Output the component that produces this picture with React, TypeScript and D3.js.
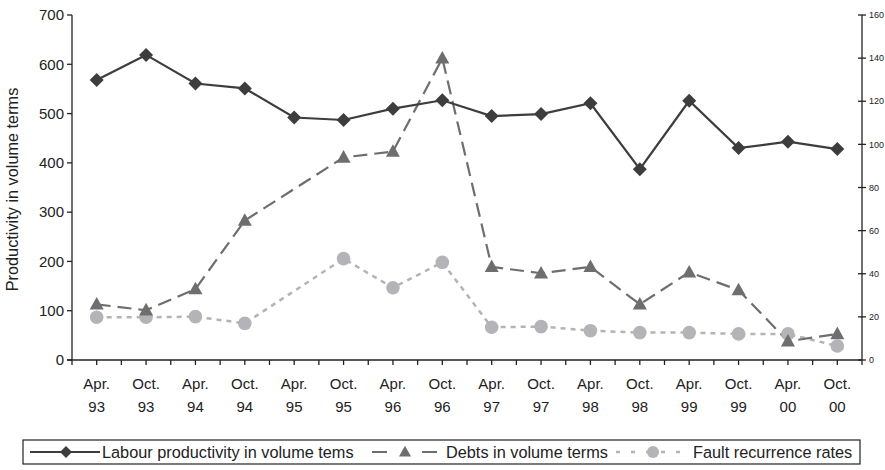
import React from "react";
import * as d3 from "d3";

const categories = ["Apr. 93","Oct. 93","Apr. 94","Oct. 94","Apr. 95","Oct. 95","Apr. 96","Oct. 96","Apr. 97","Oct. 97","Apr. 98","Oct. 98","Apr. 99","Oct. 99","Apr. 00","Oct. 00"];
const labour: (number | null)[] = [568,619,561,551,492,487,510,527,495,499,521,387,526,430,443,428];
const debts: (number | null)[] = [113,101,144,283,null,411,423,612,189,176,189,113,178,142,38,53];
const fault: (number | null)[] = [19.8,19.8,20.1,17,null,47,33.5,45.3,15.2,15.5,13.6,12.7,12.7,12.1,12.1,6.5];
const leftTicks = [0,100,200,300,400,500,600,700];
const rightTicks = [0,20,40,60,80,100,120,140,160];

const W = 885, H = 470;
const M = { left: 72, right: 862, top: 15, bottom: 360 };
const FONT = "'Liberation Sans', Arial, sans-serif";
const C_LAB = "#3d3d3d", C_DEBT = "#6e6e6e", C_FAULT = "#b4b4b8";

export default function App() {
  const x = d3.scaleBand<string>().domain(categories).range([M.left, M.right]).paddingInner(0).paddingOuter(0);
  const bw = x.bandwidth();
  const cx = (c: string) => (x(c) as number) + bw / 2;
  const yL = d3.scaleLinear().domain([0, 700]).range([M.bottom, M.top]);
  const yR = d3.scaleLinear().domain([0, 160]).range([M.bottom, M.top]);

  const mk = (vals: (number | null)[], y: d3.ScaleLinear<number, number>) => {
    const pts = categories.map((c, i) => ({ c, v: vals[i] })).filter(p => p.v !== null) as { c: string; v: number }[];
    const line = d3.line<{ c: string; v: number }>().x(p => cx(p.c)).y(p => y(p.v));
    return { pts, d: line(pts) || "" };
  };
  const sL = mk(labour, yL), sD = mk(debts, yL), sF = mk(fault, yR);

  const xTicks: number[] = [];
  categories.forEach(c => { xTicks.push(x(c) as number); xTicks.push(cx(c)); });
  xTicks.push(M.right);

  const diamond = (px: number, py: number, r = 7) => `M${px},${py - r}L${px + r},${py}L${px},${py + r}L${px - r},${py}Z`;
  const tri = (px: number, py: number, s = 7) => `M${px},${py - s * 1.05}L${px + s},${py + s * 0.75}L${px - s},${py + s * 0.75}Z`;
  const LY = 452;

  return (
    <svg width={W} height={H} style={{ position: "absolute", left: 0, top: 0, background: "#fff" }} fontFamily={FONT}>
      {/* left axis */}
      <line x1={M.left} x2={M.left} y1={M.top} y2={M.bottom} stroke="#222" strokeWidth={1.3} />
      {leftTicks.map(t => (
        <g key={t}>
          <line x1={M.left - 5} x2={M.left} y1={yL(t)} y2={yL(t)} stroke="#222" strokeWidth={1.3} />
          <text x={M.left - 8} y={yL(t)} dy="0.35em" textAnchor="end" fontSize={15} fill="#222">{t}</text>
        </g>
      ))}
      <text transform={`translate(18,${(M.top + M.bottom) / 2 + 2}) rotate(-90)`} textAnchor="middle" fontSize={16.3} fill="#222">Productivity in volume terms</text>
      {/* right axis */}
      <line x1={M.right} x2={M.right} y1={M.top} y2={M.bottom} stroke="#222" strokeWidth={1.3} />
      {rightTicks.map(t => (
        <g key={t}>
          <line x1={M.right - 4} x2={M.right + 4} y1={yR(t)} y2={yR(t)} stroke="#222" strokeWidth={1.3} />
          <text x={M.right + 7} y={yR(t)} dy="0.35em" fontSize={9} fill="#222">{t}</text>
        </g>
      ))}
      {/* x axis */}
      <line x1={M.left - 5} x2={M.right} y1={M.bottom} y2={M.bottom} stroke="#222" strokeWidth={1.3} />
      {xTicks.map((t, i) => (
        <line key={i} x1={t} x2={t} y1={M.bottom} y2={M.bottom + 5} stroke="#222" strokeWidth={1.3} />
      ))}
      {categories.map(c => {
        const [a, b] = c.split(" ");
        return (
          <text key={c} x={cx(c)} textAnchor="middle" fontSize={15} fill="#222">
            <tspan x={cx(c)} y={389}>{a}</tspan>
            <tspan x={cx(c)} y={412}>{b}</tspan>
          </text>
        );
      })}
      {/* series */}
      <path d={sF.d} fill="none" stroke={C_FAULT} strokeWidth={2.5} strokeDasharray="5,5" />
      <path d={sD.d} fill="none" stroke={C_DEBT} strokeWidth={2.2} strokeDasharray="14,7" />
      <path d={sL.d} fill="none" stroke={C_LAB} strokeWidth={2.2} />
      {sF.pts.map(p => <circle key={p.c} cx={cx(p.c)} cy={yR(p.v)} r={6.8} fill={C_FAULT} />)}
      {sD.pts.map(p => <path key={p.c} d={tri(cx(p.c), yL(p.v))} fill={C_DEBT} />)}
      {sL.pts.map(p => <path key={p.c} d={diamond(cx(p.c), yL(p.v))} fill={C_LAB} />)}
      {/* legend */}
      <rect x={23} y={440} width={837} height={24} fill="#fff" stroke="#222" strokeWidth={1.2} />
      <line x1={30} x2={100} y1={LY} y2={LY} stroke={C_LAB} strokeWidth={2} />
      <path d={diamond(66, LY, 6)} fill={C_LAB} />
      <text x={102} y={LY} dy="0.35em" fontSize={16.3} fill="#222">Labour productivity in volume tems</text>
      <line x1={372} x2={437} y1={LY} y2={LY} stroke={C_DEBT} strokeWidth={2.2} strokeDasharray="15,35" />
      <path d={tri(405, LY, 6)} fill={C_DEBT} />
      <text x={446} y={LY} dy="0.35em" fontSize={16.3} fill="#222">Debts in volume terms</text>
      <line x1={616} x2={691} y1={LY} y2={LY} stroke={C_FAULT} strokeWidth={2.5} strokeDasharray="4,11" />
      <circle cx={653} cy={LY} r={6} fill={C_FAULT} />
      <text x={693} y={LY} dy="0.35em" fontSize={16.3} fill="#222">Fault recurrence rates</text>
    </svg>
  );
}
